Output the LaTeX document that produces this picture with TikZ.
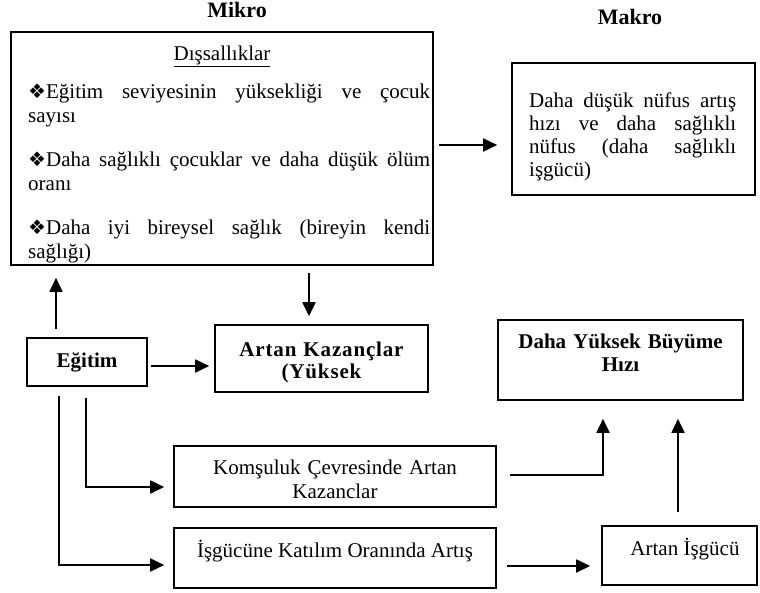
\documentclass[tikz,border=0pt]{standalone}
\usepackage{fontspec}
\setmainfont{Liberation Serif}
\newfontfamily\symfont{DejaVu Sans}
\newfontfamily\widebold[LetterSpace=4]{Liberation Serif Bold}
\usetikzlibrary{arrows.meta}
\newcommand\bul{{\symfont\fontsize{20}{20}\selectfont ❖}}
\tikzset{
  box/.style={draw, line width=1.6pt, inner sep=0pt},
  txt/.style={inner sep=0pt, font=\fontsize{21}{20}\selectfont},
  bld/.style={inner sep=0pt, font=\fontsize{21}{20}\selectfont\bfseries},
  arr/.style={line width=1.8pt, -{Triangle[length=14pt,width=13pt]}},
}
\begin{document}
\begin{tikzpicture}[x=1pt,y=-1pt]
\useasboundingbox (0,0) rectangle (760,592);
% titles
\node[bld, font=\fontsize{22}{22}\selectfont\bfseries, anchor=base] (mikro) at (237,17.5) {Mikro};
\node[bld, font=\fontsize{22}{22}\selectfont\bfseries, anchor=base] (makro) at (630,24) {Makro};
% boxes
\node[box, minimum width=422pt, minimum height=233pt] (ext) at (222,148.5) {};
\node[box, minimum width=243pt, minimum height=132pt] (mak) at (633.5,129) {};
\node[box, bld, minimum width=120pt, minimum height=48pt] (egt) at (87,362) {Eğitim};
\node[box, minimum width=213pt, minimum height=67pt] (art) at (321.5,358.5) {};
\node[box, minimum width=245pt, minimum height=80pt] (buy) at (620.5,360) {};
\node[box, minimum width=322pt, minimum height=61pt] (kom) at (335,476.5) {};
\node[box, minimum width=322pt, minimum height=60pt] (isg) at (335,558) {};
\node[box, minimum width=155pt, minimum height=59pt] (aig) at (679.5,555.5) {};
% texts in the externalities box
\node[txt, anchor=base] (dis) at (222,60) {\underline{Dışsallıklar}};
\node[txt, font=\fontsize{21}{24}\selectfont, text width=402pt, align=justify, anchor=base west] (p1) at (28,98)
  {\bul Eğitim seviyesinin yüksekliği ve çocuk\linebreak sayısı};
\node[txt, font=\fontsize{21}{24}\selectfont, text width=402pt, align=justify, anchor=base west] (p2) at (28,166)
  {\bul Daha sağlıklı çocuklar ve daha düşük ölüm\linebreak oranı};
\node[txt, font=\fontsize{21}{24}\selectfont, text width=402pt, align=justify, anchor=base west] (p3) at (28,234)
  {\bul Daha iyi bireysel sağlık (bireyin kendi\linebreak sağlığı)};
% makro text
\node[txt, font=\fontsize{21}{23}\selectfont, text width=207pt, align=justify, anchor=base west] (makt) at (529,107)
  {Daha düşük nüfus artış\linebreak hızı ve daha sağlıklı\linebreak nüfus (daha sağlıklı\linebreak işgücü)};
% other texts
\node[inner sep=0pt, font=\widebold\fontsize{21}{22}\selectfont, text width=213pt, align=center, anchor=base] (artt) at (321.5,356) {Artan Kazançlar\\(Yüksek};
\node[bld, font=\fontsize{21}{23}\selectfont\bfseries, text width=245pt, align=center, anchor=base] (buyt) at (620.5,348) {Daha Yüksek Büyüme\\Hızı};
\node[txt, font=\fontsize{21}{24}\selectfont, text width=322pt, align=center, anchor=base] (komt) at (335,474) {Komşuluk Çevresinde Artan\\Kazanclar};
\node[txt, anchor=base] (isgt) at (335,557) {İşgücüne Katılım Oranında Artış};
\node[txt, anchor=base] (aigt) at (685,555) {Artan İşgücü};
% connectors
\draw[arr, shorten <=5pt, shorten >=14pt] ([yshift=3.5pt]ext.east) -- ([yshift=3.5pt]ext.east -| mak.west);
\draw[arr, shorten <=8pt, shorten >=12pt] ([xshift=-31pt]egt.north) -- ([xshift=-31pt]egt.north |- ext.south);
\draw[arr, shorten <=7pt, shorten >=8pt] ([xshift=-12.5pt]art.north |- ext.south) -- ([xshift=-12.5pt]art.north);
\draw[arr, shorten <=3pt, shorten >=5pt] ([yshift=-4pt]egt.east) -- ([yshift=-4pt]egt.east -| art.west);
\draw[arr, shorten <=11pt, shorten >=9pt] ([xshift=-1pt]egt.south) |- ([yshift=-10.5pt]kom.west);
\draw[arr, shorten <=9pt, shorten >=9pt] ([xshift=-28pt]egt.south) |- ([yshift=-7pt]isg.west);
\draw[arr, shorten <=13pt, shorten >=18pt] ([yshift=1.5pt]kom.east) -| ([xshift=-17.5pt]buy.south);
\draw[arr, shorten <=10pt, shorten >=11pt] ([yshift=-8pt]isg.east) -- ([yshift=-8pt]isg.east -| aig.west);
\draw[arr, shorten <=13pt, shorten >=18pt] ([xshift=-1.5pt]aig.north) -- ([xshift=-1.5pt]aig.north |- buy.south);
\end{tikzpicture}
\end{document}
